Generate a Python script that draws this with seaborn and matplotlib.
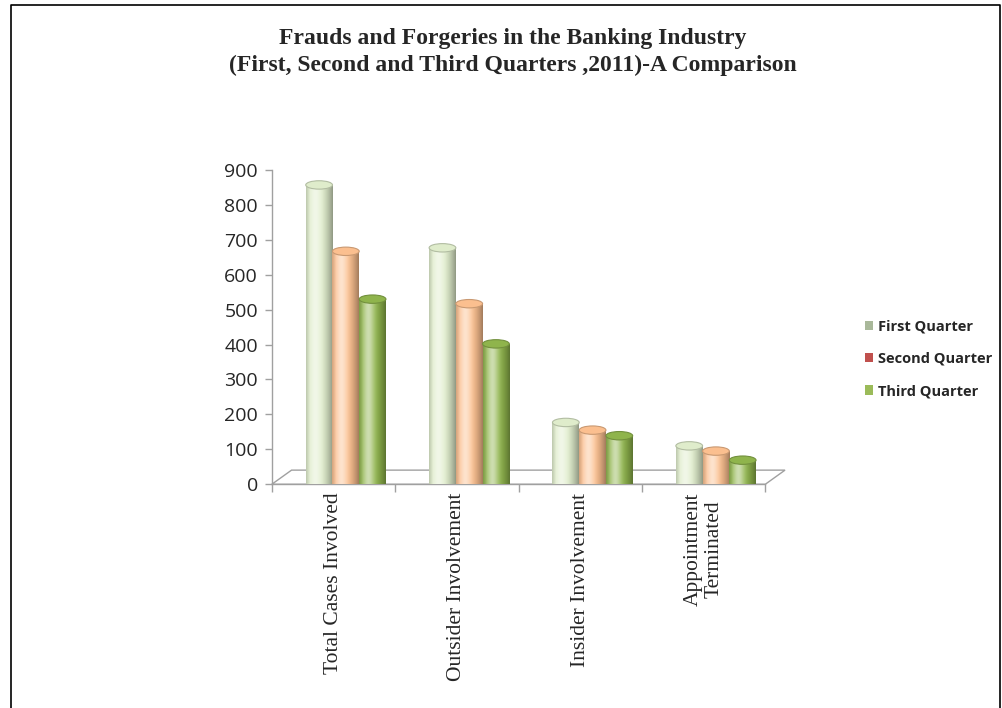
import numpy as np
import pandas as pd
import matplotlib
matplotlib.use("Agg")
import matplotlib.pyplot as plt
import matplotlib.colors as mcolors
from matplotlib.patches import Ellipse, Patch, Polygon
from matplotlib.lines import Line2D
import seaborn as sns

categories = ['Total Cases Involved', 'Outsider Involvement', 'Insider Involvement', 'Appointment\nTerminated']
quarters = ['First Quarter', 'Second Quarter', 'Third Quarter']
first_q = [857, 677, 177, 110]
second_q = [667, 517, 155, 95]
third_q = [530, 402, 139, 69]

bar_colors = ['#dfeccb', '#fbbf8f', '#8fb44c']
legend_colors = ['#a9b89a', '#c0504d', '#9bbb59']

df = pd.DataFrame({
    'category': categories * 3,
    'quarter': [q for q in quarters for _ in categories],
    'value': first_q + second_q + third_q,
})

sns.set_theme(style='white')
fig = plt.figure(figsize=(10.03, 7.08), dpi=100)
ax = fig.add_axes([0.271, 0.316, 0.492, 0.444])

sns.barplot(data=df, x='category', y='value', hue='quarter', palette=bar_colors,
            width=0.65, ax=ax, saturation=1, legend=False)

# fake cylinder shading on each bar
def shade(c):
    base = np.array(mcolors.to_rgb(c))
    xs = np.linspace(0, 1, 64)
    light = 0.55 * np.exp(-((xs - 0.35) / 0.22) ** 2)
    dark = 0.35 * np.clip((xs - 0.55) / 0.45, 0, 1) ** 1.5 + 0.15 * np.clip((0.15 - xs) / 0.15, 0, 1)
    rows = base[None, :] * (1 - dark[:, None]) + (1 - base[None, :]) * light[:, None] * (1 - dark[:, None])
    return np.clip(rows[None, :, :], 0, 1)

# shift bars a little to the right, like the 3d depth offset
shift = 0.1
for i, p in enumerate(ax.patches):
    col = bar_colors[i // len(categories)]
    p.set_x(p.get_x() + shift)
    x, w, h = p.get_x(), p.get_width(), p.get_height()
    p.set_edgecolor('none')
    im = ax.imshow(shade(col), extent=[x, x + w, 0, h], aspect='auto', zorder=3)
    im.set_clip_path(p)
    cap = Ellipse((x + w / 2, h), w, 24, facecolor=mcolors.to_rgb(col), zorder=4,
                  edgecolor=np.array(mcolors.to_rgb(col)) * 0.8, lw=0.8)
    ax.add_patch(cap)

ax.set_xlim(-0.5, 3.5)
ax.set_ylim(0, 900)
ax.set_yticks(range(0, 901, 100))
ax.set_xticks([-0.5, 0.5, 1.5, 2.5, 3.5], minor=True)
ax.set_xticks(range(len(categories)))
ax.set_xticklabels(categories, rotation=90, family='Liberation Serif', fontsize=15.5,
                   linespacing=1.15)
ax.tick_params(axis='x', which='major', length=0, pad=6)
ax.tick_params(axis='x', which='minor', length=6, color='#a0a0a0', width=1, bottom=True)
ax.tick_params(axis='y', length=5, color='#a0a0a0', width=1, left=True, labelsize=14, pad=5)
for lab in ax.get_yticklabels():
    lab.set_family('Open Sans')
ax.set_xlabel('')
ax.set_ylabel('')
for s in ['top', 'right']:
    ax.spines[s].set_visible(False)
for s in ['left', 'bottom']:
    ax.spines[s].set_color('#a0a0a0')
    ax.spines[s].set_linewidth(1)

# 3d style floor
floor = Polygon([(0, 0), (0.04, 0.045), (1.04, 0.045), (1.0, 0)], closed=True,
                transform=ax.transAxes, facecolor='none', edgecolor='#a0a0a0',
                lw=1, clip_on=False, zorder=1)
ax.add_patch(floor)

handles = [Patch(facecolor=c, edgecolor='none') for c in legend_colors]
fig.legend(handles, quarters, loc='center left', bbox_to_anchor=(0.849, 0.493),
           frameon=False, handlelength=0.6, handleheight=0.6, handletextpad=0.3,
           labelspacing=1.25, prop={'family': 'Open Sans', 'weight': 'bold', 'size': 10.5})

fig.text(0.511, 0.945, 'Frauds and Forgeries in the Banking Industry', ha='center', va='center',
         family='Liberation Serif', weight='bold', fontsize=17)
fig.text(0.511, 0.907, '(First, Second and Third Quarters ,2011)-A Comparison', ha='center',
         va='center', family='Liberation Serif', weight='bold', fontsize=17)

# border
fig.add_artist(Line2D([0.011, 0.011, 0.997, 0.997], [0.0, 0.993, 0.993, 0.0],
                      transform=fig.transFigure, color='black', lw=1.2))

fig.savefig('out.png', dpi=100)
